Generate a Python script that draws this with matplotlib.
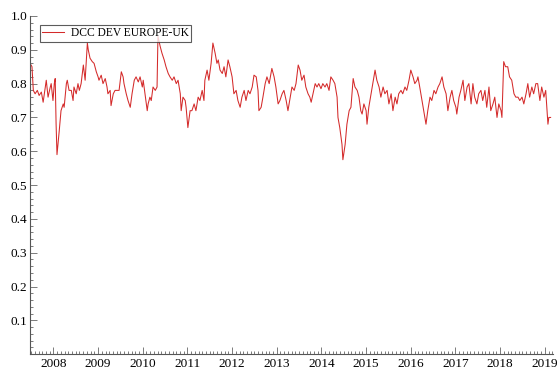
import matplotlib
matplotlib.use("Agg")
import matplotlib.pyplot as plt
from matplotlib.ticker import MultipleLocator

# DCC correlation (decimal years)
years = [2007.50, 2007.52, 2007.55, 2007.59, 2007.64, 2007.68, 2007.73, 2007.77, 2007.82, 2007.84,
         2007.88, 2007.93, 2007.95, 2007.99, 2008.02, 2008.04, 2008.06, 2008.08, 2008.13, 2008.17,
         2008.22, 2008.24, 2008.29, 2008.31, 2008.35, 2008.40, 2008.44, 2008.46, 2008.51, 2008.55,
         2008.58, 2008.62, 2008.67, 2008.71, 2008.76, 2008.78, 2008.82, 2008.87, 2008.91, 2008.96,
         2009.00, 2009.02, 2009.07, 2009.11, 2009.16, 2009.20, 2009.22, 2009.27, 2009.29, 2009.34,
         2009.38, 2009.43, 2009.47, 2009.52, 2009.56, 2009.58, 2009.63, 2009.67, 2009.72, 2009.76,
         2009.81, 2009.85, 2009.90, 2009.94, 2009.99, 2010.01, 2010.05, 2010.10, 2010.12, 2010.16,
         2010.19, 2010.23, 2010.28, 2010.32, 2010.34, 2010.39, 2010.43, 2010.48, 2010.52, 2010.57,
         2010.61, 2010.66, 2010.70, 2010.75, 2010.79, 2010.84, 2010.86, 2010.90, 2010.95, 2010.97,
         2011.01, 2011.06, 2011.10, 2011.15, 2011.19, 2011.24, 2011.28, 2011.33, 2011.37, 2011.39,
         2011.44, 2011.48, 2011.53, 2011.57, 2011.62, 2011.66, 2011.69, 2011.73, 2011.78, 2011.82,
         2011.86, 2011.91, 2011.95, 2012.00, 2012.04, 2012.09, 2012.13, 2012.18, 2012.22, 2012.27,
         2012.31, 2012.36, 2012.40, 2012.45, 2012.49, 2012.54, 2012.58, 2012.60, 2012.65, 2012.69,
         2012.74, 2012.78, 2012.83, 2012.87, 2012.89, 2012.94, 2012.98, 2013.03, 2013.07, 2013.12,
         2013.16, 2013.21, 2013.25, 2013.30, 2013.34, 2013.39, 2013.43, 2013.48, 2013.52, 2013.56,
         2013.61, 2013.65, 2013.70, 2013.74, 2013.77, 2013.81, 2013.86, 2013.90, 2013.94, 2013.99,
         2014.03, 2014.08, 2014.12, 2014.17, 2014.21, 2014.26, 2014.30, 2014.35, 2014.37, 2014.41,
         2014.46, 2014.48, 2014.53, 2014.57, 2014.62, 2014.66, 2014.71, 2014.75, 2014.80, 2014.84,
         2014.88, 2014.91, 2014.95, 2015.00, 2015.02, 2015.06, 2015.11, 2015.15, 2015.20, 2015.24,
         2015.29, 2015.33, 2015.38, 2015.42, 2015.47, 2015.51, 2015.56, 2015.60, 2015.65, 2015.69,
         2015.73, 2015.78, 2015.82, 2015.87, 2015.91, 2015.96, 2016.00, 2016.05, 2016.09, 2016.14,
         2016.16, 2016.20, 2016.25, 2016.29, 2016.34, 2016.38, 2016.43, 2016.47, 2016.52, 2016.56,
         2016.61, 2016.65, 2016.70, 2016.74, 2016.79, 2016.83, 2016.88, 2016.92, 2016.96, 2017.01,
         2017.03, 2017.08, 2017.12, 2017.17, 2017.21, 2017.26, 2017.30, 2017.35, 2017.39, 2017.43,
         2017.48, 2017.52, 2017.57, 2017.61, 2017.66, 2017.70, 2017.75, 2017.79, 2017.84, 2017.88,
         2017.93, 2017.97, 2018.02, 2018.04, 2018.08, 2018.12, 2018.17, 2018.21, 2018.26, 2018.31,
         2018.35, 2018.40, 2018.44, 2018.49, 2018.53, 2018.58, 2018.62, 2018.66, 2018.71, 2018.75,
         2018.80, 2018.84, 2018.89, 2018.93, 2018.98, 2019.02, 2019.07, 2019.09, 2019.13]

dcc = [0.855, 0.85, 0.78, 0.77, 0.78, 0.765, 0.775, 0.745, 0.79, 0.81,
       0.76, 0.79, 0.80, 0.75, 0.80, 0.815, 0.68, 0.59, 0.66, 0.72,
       0.74, 0.73, 0.80, 0.81, 0.78, 0.78, 0.75, 0.79, 0.77, 0.80,
       0.78, 0.80, 0.855, 0.81, 0.92, 0.90, 0.875, 0.865, 0.86, 0.835,
       0.82, 0.81, 0.825, 0.80, 0.815, 0.79, 0.77, 0.78, 0.735, 0.77,
       0.78, 0.78, 0.78, 0.835, 0.82, 0.80, 0.77, 0.75, 0.73, 0.77,
       0.81, 0.82, 0.805, 0.82, 0.79, 0.81, 0.77, 0.72, 0.74, 0.76,
       0.75, 0.79, 0.78, 0.79, 0.94, 0.91, 0.89, 0.87, 0.85, 0.83,
       0.82, 0.81, 0.82, 0.80, 0.81, 0.77, 0.72, 0.76, 0.75, 0.73,
       0.67, 0.72, 0.72, 0.74, 0.72, 0.76, 0.75, 0.78, 0.75, 0.81,
       0.84, 0.81, 0.86, 0.92, 0.89, 0.86, 0.87, 0.84, 0.83, 0.85,
       0.82, 0.87, 0.85, 0.82, 0.77, 0.78, 0.75, 0.73, 0.76, 0.78,
       0.75, 0.78, 0.77, 0.79, 0.825, 0.82, 0.78, 0.72, 0.73, 0.76,
       0.80, 0.82, 0.80, 0.83, 0.845, 0.82, 0.79, 0.74, 0.75, 0.77,
       0.78, 0.75, 0.72, 0.76, 0.79, 0.78, 0.80, 0.855, 0.84, 0.81,
       0.825, 0.79, 0.77, 0.76, 0.745, 0.77, 0.80, 0.79, 0.80, 0.785,
       0.80, 0.79, 0.80, 0.78, 0.82, 0.81, 0.80, 0.76, 0.70, 0.67,
       0.62, 0.575, 0.62, 0.68, 0.72, 0.73, 0.815, 0.79, 0.78, 0.76,
       0.72, 0.71, 0.74, 0.72, 0.68, 0.73, 0.77, 0.80, 0.84, 0.81,
       0.79, 0.76, 0.79, 0.77, 0.78, 0.74, 0.77, 0.72, 0.76, 0.74,
       0.77, 0.78, 0.77, 0.79, 0.78, 0.81, 0.84, 0.82, 0.80, 0.81,
       0.82, 0.79, 0.75, 0.72, 0.68, 0.72, 0.76, 0.75, 0.78, 0.77,
       0.79, 0.80, 0.82, 0.79, 0.77, 0.72, 0.76, 0.78, 0.75, 0.73,
       0.71, 0.76, 0.78, 0.81, 0.75, 0.79, 0.80, 0.74, 0.80, 0.76,
       0.74, 0.77, 0.78, 0.75, 0.78, 0.73, 0.79, 0.72, 0.74, 0.76,
       0.70, 0.74, 0.72, 0.70, 0.865, 0.85, 0.85, 0.82, 0.81, 0.77,
       0.76, 0.76, 0.75, 0.76, 0.74, 0.77, 0.80, 0.76, 0.79, 0.77,
       0.80, 0.80, 0.75, 0.79, 0.76, 0.78, 0.68, 0.70, 0.70]

year_ticks = list(range(2008, 2020))
y_ticks = [0.1, 0.2, 0.3, 0.4, 0.5, 0.6, 0.7, 0.8, 0.9, 1.0]

plt.rcParams['font.family'] = ['Liberation Serif', 'DejaVu Serif']
plt.rcParams['font.size'] = 9.5

fig = plt.figure(figsize=(5.59, 3.72), dpi=100)
ax = fig.add_axes([0.054, 0.048, 0.935, 0.909])

ax.plot(years, dcc, color='#d42a2a', lw=0.75, label='DCC DEV EUROPE-UK')

ax.set_xlim(2007.48, 2019.18)
ax.set_ylim(0, 1.0)
ax.set_xticks(year_ticks)
ax.set_xticklabels([str(y) for y in year_ticks])
ax.set_yticks(y_ticks)
ax.set_yticklabels(['%.1f' % v for v in y_ticks])
ax.xaxis.set_minor_locator(MultipleLocator(1 / 12))
ax.yaxis.set_minor_locator(MultipleLocator(0.02))
ax.tick_params(which='both', direction='in', color='#666666', width=0.6)
ax.tick_params(which='major', length=5, pad=3)
ax.tick_params(which='minor', length=2.5)
ax.tick_params(axis='y', pad=2)

for s in ['top', 'right']:
    ax.spines[s].set_visible(False)
for s in ['left', 'bottom']:
    ax.spines[s].set_color('#555555')
    ax.spines[s].set_linewidth(0.8)

leg = ax.legend(loc='upper left', bbox_to_anchor=(0.019, 0.973), frameon=True, fancybox=False,
                fontsize=8.3, handlelength=1.9, borderpad=0.2, handletextpad=0.6, borderaxespad=0)
leg.get_frame().set_edgecolor('#333333')
leg.get_frame().set_linewidth(0.8)

fig.savefig('out.png', dpi=100)
